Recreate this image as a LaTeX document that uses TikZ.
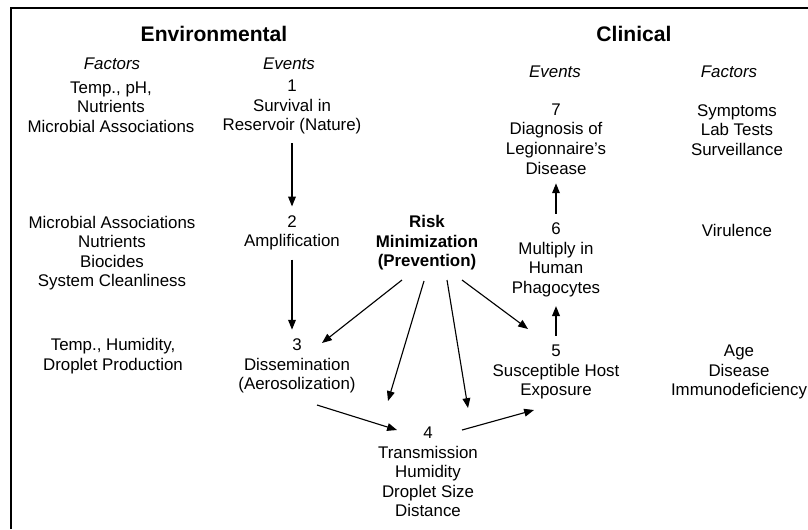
\documentclass[tikz,border=0pt]{standalone}
\usepackage{fontspec}
\setmainfont{Liberation Sans}
\usetikzlibrary{arrows.meta}

\begin{document}
\begin{tikzpicture}[x=0.025cm, y=-0.025cm,
		txt/.style={align=center, font=\fontsize{12}{13.9}\selectfont},
		head/.style={font=\fontsize{15}{17}\selectfont\bfseries},
		sub/.style={font=\fontsize{12}{14}\selectfont\itshape},
		push/.style={-{Triangle[length=7pt,width=5.5pt]}, line width=0.8pt},
		flow/.style={push, shorten <=3pt, shorten >=3pt}]
				\useasboundingbox (0,0) rectangle (808,529);
				\draw[line width=1.6pt] (11,529) -- (11,8) -- (808,8);
				% headings
				\node[head] (env) at (214,34) {Environmental};
				\node[head] (clin) at (634,34) {Clinical};
				\node[sub] (envfac) at (112,64) {Factors};
				\node[sub] (envev) at (289,64) {Events};
				\node[sub] (clinev) at (555,72) {Events};
				\node[sub] (clinfac) at (729,72) {Factors};
				% environmental side
				\node[txt] (f1) at (111,107) {Temp., pH,\\Nutrients\\Microbial Associations};
				\node[txt] (f2) at (112,253) {Microbial Associations\\Nutrients\\Biocides\\System Cleanliness};
				\node[txt] (f3) at (113,356) {Temp., Humidity,\\Droplet Production};
				\node[txt] (e1) at (292,107) {1\\Survival in\\Reservoir (Nature)};
				\node[txt] (e2) at (292,233) {2\\Amplification};
				\node[txt] (e3) at (297,366) {3\\Dissemination\\(Aerosolization)};
				\node[txt, font=\fontsize{12}{13.9}\selectfont\bfseries] (risk) at (427,243) {Risk\\Minimization\\(Prevention)};
				\node[txt] (e4) at (428,472) {4\\Transmission\\Humidity\\Droplet Size\\Distance};
				% clinical side
				\node[txt] (e5) at (556,372) {5\\Susceptible Host\\Exposure};
				\node[txt] (e6) at (556,260) {6\\Multiply in\\Human\\Phagocytes};
				\node[txt] (e7) at (556,139) {7\\Diagnosis of\\Legionnaire's\\Disease};
				\node[txt] (c7) at (737,130) {Symptoms\\Lab Tests\\Surveillance};
				\node[txt] (c6) at (737,230) {Virulence};
				\node[txt] (c5) at (739,372) {Age\\Disease\\Immunodeficiency};
				% arrows
				\draw[flow] (e1) -- (e2);
				\draw[flow] (e2) -- (e2 |- e3.north);
				\draw[flow] (e5) -- (e6);
				\draw[flow] (e6) -- (e7);
				\draw[push] ([shift={(-25,37)}]risk.center) -- ([shift={(25,-23)}]e3.center);
				\draw[push] ([shift={(-3,38)}]risk.center) -- ([shift={(-40,-71)}]e4.center);
				\draw[push] ([shift={(20,37)}]risk.center) -- ([shift={(40,-64)}]e4.center);
				\draw[push] ([shift={(35,37)}]risk.center) -- ([shift={(-28,-43)}]e5.center);
				\draw[push] ([shift={(20,39)}]e3.center) -- ([shift={(-31,-42)}]e4.center);
				\draw[push] ([shift={(34,-42)}]e4.center) -- ([shift={(-22,38)}]e5.center);
			\end{tikzpicture}
\end{document}
